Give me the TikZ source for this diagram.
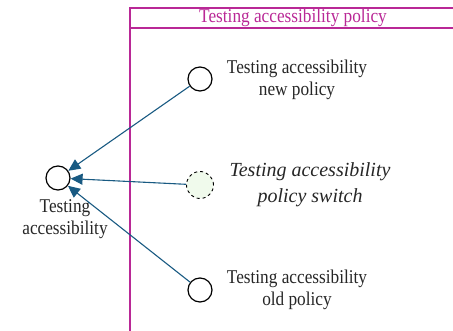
\documentclass[tikz,border=0pt]{standalone}
\usepackage{fontspec}
\setmainfont{Liberation Serif}
\newfontfamily\condserif[FakeStretch=0.885]{Liberation Serif}
\usetikzlibrary{arrows.meta}
\definecolor{lanec}{RGB}{185,40,150}
\definecolor{arrc}{RGB}{25,90,130}
\definecolor{swfill}{RGB}{240,250,236}
\tikzset{
  state/.style={circle,draw=black,line width=1.2pt,minimum size=24pt,inner sep=0pt},
  switchstate/.style={state,dashed,line width=0.9pt,fill=swfill,minimum size=27pt},
  lbl/.style={align=center,font=\condserif\fontsize{19.5}{22.5}\selectfont,text=black!85,inner sep=0pt},
  ilbl/.style={align=center,font=\fontsize{20}{26}\selectfont\itshape,text=black!85,inner sep=0pt},
  conn/.style={arrc,line width=1.1pt,-{Triangle[length=12pt,width=11pt]}},
  lane/.style={lanec,line width=1.1pt}
}
\begin{document}
\begin{tikzpicture}[x=1pt,y=-1pt]
\useasboundingbox (0,0) rectangle (453,331);
% swimlane
\draw[lane] (130,331) -- (130,8) -- (453,8);
\draw[lane] (130,28) -- (453,28);
\node[font=\condserif\fontsize{19.5}{20}\selectfont,text=lanec,inner sep=0pt] (title) at (293,17.5) {Testing accessibility policy};
% nodes
\node[state] (acc) at (58,178) {};
\node[lbl,anchor=north] (acclbl) at (65,199) {Testing\\accessibility};
\node[state] (newp) at (200,79) {};
\node[lbl] (newlbl) at (297,80) {Testing accessibility\\new policy};
\node[switchstate] (sw) at (200,185) {};
\node[ilbl] (swlbl) at (310,185) {Testing accessibility\\policy switch};
\node[state] (oldp) at (200,290) {};
\node[lbl] (oldlbl) at (297,290) {Testing accessibility\\old policy};
% connectors
\draw[conn] (newp) -- (acc);
\draw[conn] (sw) -- (acc);
\draw[conn] (oldp) -- (acc);
\end{tikzpicture}
\end{document}
